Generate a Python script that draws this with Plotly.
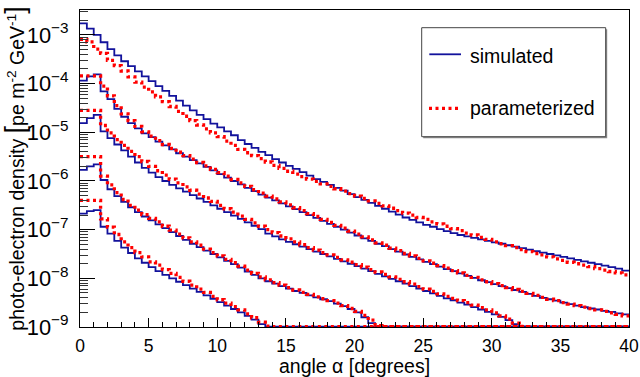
import plotly.graph_objects as go

# ---------------- data (log10 of photo-electron density per 0.5 deg bin) ----------------
bin_width = 0.5
n_bins = 80
bin_low = [i * bin_width for i in range(n_bins)]          # 0, 0.5, ..., 39.5

sim1_log10 = [-2.76, -2.87, -3.00, -3.15, -3.29, -3.42, -3.54, -3.64, -3.75, -3.85,
              -3.95, -4.05, -4.15, -4.25, -4.35, -4.45, -4.55, -4.64, -4.73, -4.82,
              -4.90, -4.98, -5.06, -5.16, -5.24, -5.32, -5.40, -5.47, -5.55, -5.62,
              -5.69, -5.75, -5.82, -5.89, -5.96, -6.02, -6.08, -6.14, -6.20, -6.27,
              -6.33, -6.39, -6.45, -6.51, -6.57, -6.63, -6.69, -6.75, -6.80, -6.85,
              -6.90, -6.94, -6.99, -7.03, -7.07, -7.11, -7.14, -7.17, -7.20, -7.23,
              -7.26, -7.29, -7.32, -7.35, -7.38, -7.41, -7.44, -7.47, -7.50, -7.53,
              -7.56, -7.59, -7.62, -7.65, -7.68, -7.71, -7.74, -7.77, -7.80, -7.84]
par1_log10 = [-3.09, -3.14, -3.29, -3.38, -3.52, -3.63, -3.74, -3.86, -3.97, -4.07,
              -4.17, -4.27, -4.37, -4.47, -4.57, -4.67, -4.76, -4.85, -4.93, -5.01,
              -5.09, -5.18, -5.27, -5.35, -5.42, -5.48, -5.54, -5.61, -5.68, -5.74,
              -5.80, -5.86, -5.91, -5.96, -6.01, -6.06, -6.11, -6.16, -6.21, -6.26,
              -6.31, -6.36, -6.41, -6.46, -6.51, -6.56, -6.61, -6.66, -6.70, -6.75,
              -6.79, -6.84, -6.88, -6.93, -6.98, -7.02, -7.07, -7.11, -7.16, -7.20,
              -7.25, -7.29, -7.33, -7.37, -7.41, -7.45, -7.49, -7.52, -7.56, -7.60,
              -7.63, -7.67, -7.70, -7.73, -7.76, -7.80, -7.83, -7.86, -7.89, -7.93]

sim2_log10 = [-3.94, -3.85, -3.81, -4.16, -4.32, -4.52, -4.68, -4.81, -4.92, -5.02,
              -5.10, -5.19, -5.27, -5.35, -5.43, -5.50, -5.57, -5.64, -5.71, -5.78,
              -5.86, -5.93, -6.00, -6.07, -6.14, -6.21, -6.28, -6.34, -6.40, -6.46,
              -6.52, -6.58, -6.64, -6.70, -6.76, -6.82, -6.88, -6.94, -7.00, -7.06,
              -7.12, -7.18, -7.23, -7.29, -7.34, -7.40, -7.45, -7.51, -7.56, -7.61,
              -7.66, -7.71, -7.76, -7.81, -7.85, -7.90, -7.95, -7.99, -8.04, -8.08,
              -8.12, -8.16, -8.20, -8.24, -8.28, -8.32, -8.36, -8.40, -8.43, -8.46,
              -8.50, -8.53, -8.56, -8.59, -8.62, -8.64, -8.67, -8.69, -8.72, -8.74]
par2_log10 = [-3.84, -3.84, -3.84, -4.05, -4.25, -4.45, -4.62, -4.76, -4.88, -4.99,
              -5.08, -5.17, -5.25, -5.33, -5.41, -5.48, -5.55, -5.62, -5.69, -5.76,
              -5.83, -5.90, -5.97, -6.04, -6.11, -6.18, -6.25, -6.31, -6.37, -6.43,
              -6.49, -6.55, -6.61, -6.67, -6.73, -6.79, -6.85, -6.91, -6.97, -7.03,
              -7.09, -7.15, -7.21, -7.27, -7.32, -7.38, -7.43, -7.49, -7.54, -7.59,
              -7.64, -7.69, -7.74, -7.79, -7.84, -7.89, -7.94, -7.98, -8.03, -8.07,
              -8.11, -8.15, -8.19, -8.23, -8.27, -8.31, -8.35, -8.39, -8.43, -8.46,
              -8.50, -8.53, -8.56, -8.59, -8.62, -8.65, -8.68, -8.71, -8.74, -8.77]

sim3_log10 = [-4.81, -4.71, -4.64, -4.98, -5.12, -5.25, -5.37, -5.50, -5.62, -5.73,
              -5.83, -5.92, -6.00, -6.08, -6.15, -6.22, -6.29, -6.36, -6.43, -6.50,
              -6.57, -6.64, -6.71, -6.78, -6.85, -6.92, -6.99, -7.08, -7.14, -7.20,
              -7.25, -7.30, -7.35, -7.40, -7.45, -7.50, -7.55, -7.60, -7.65, -7.70,
              -7.75, -7.80, -7.85, -7.91, -7.96, -8.01, -8.06, -8.11, -8.16, -8.21,
              -8.26, -8.31, -8.36, -8.41, -8.45, -8.50, -8.54, -8.59, -8.64, -8.69,
              -8.74, -8.79, -8.86, -8.94, None, None, None, None, None, None,
              None, None, None, None, None, None, None, None, None, None]
par3_log10 = [-4.55, -4.55, -4.55, -4.86, -5.01, -5.15, -5.27, -5.39, -5.50, -5.60,
              -5.70, -5.79, -5.88, -5.96, -6.04, -6.12, -6.19, -6.27, -6.35, -6.42,
              -6.50, -6.57, -6.64, -6.72, -6.79, -6.86, -6.93, -7.00, -7.06, -7.13,
              -7.19, -7.25, -7.31, -7.37, -7.42, -7.47, -7.52, -7.57, -7.62, -7.67,
              -7.72, -7.77, -7.82, -7.87, -7.92, -7.97, -8.02, -8.07, -8.12, -8.17,
              -8.22, -8.27, -8.32, -8.37, -8.41, -8.46, -8.50, -8.55, -8.60, -8.65,
              -8.71, -8.77, -8.84, -8.92, -8.99, None, None, None, None, None,
              None, None, None, None, None, None, None, None, None, None]

sim4_log10 = [-5.77, -5.70, -5.66, -5.98, -6.17, -6.31, -6.43, -6.54, -6.64, -6.73,
              -6.81, -6.89, -6.97, -7.05, -7.13, -7.21, -7.29, -7.36, -7.43, -7.50,
              -7.57, -7.64, -7.71, -7.78, -7.86, -7.93, -8.00, -8.06, -8.11, -8.16,
              -8.21, -8.26, -8.30, -8.35, -8.39, -8.43, -8.47, -8.52, -8.57, -8.63,
              -8.70, -8.80, -8.92, None, None, None, None, None, None, None,
              None, None, None, None, None, None, None, None, None, None,
              None, None, None, None, None, None, None, None, None, None,
              None, None, None, None, None, None, None, None, None, None]
par4_log10 = [-5.50, -5.50, -5.50, -5.90, -6.08, -6.24, -6.38, -6.50, -6.60, -6.69,
              -6.77, -6.84, -6.93, -7.01, -7.09, -7.17, -7.25, -7.32, -7.40, -7.47,
              -7.54, -7.61, -7.68, -7.75, -7.83, -7.90, -7.97, -8.03, -8.09, -8.14,
              -8.19, -8.24, -8.29, -8.33, -8.38, -8.42, -8.46, -8.51, -8.56, -8.62,
              -8.68, -8.76, -8.86, -8.97, None, None, None, None, None, None,
              None, None, None, None, None, None, None, None, None, None,
              None, None, None, None, None, None, None, None, None, None,
              None, None, None, None, None, None, None, None, None, None]

sim5_log10 = [-6.67, -6.62, -6.60, -6.94, -7.08, -7.23, -7.37, -7.48, -7.59, -7.68,
              -7.77, -7.85, -7.93, -8.00, -8.07, -8.14, -8.21, -8.28, -8.35, -8.42,
              -8.49, -8.56, -8.63, -8.70, -8.77, -8.85, -8.94, None, None, None,
              None, None, None, None, None, None, None, None, None, None,
              None, None, None, None, None, None, None, None, None, None,
              None, None, None, None, None, None, None, None, None, None,
              None, None, None, None, None, None, None, None, None, None,
              None, None, None, None, None, None, None, None, None, None]
par5_log10 = [-6.40, -6.40, -6.40, -6.78, -6.95, -7.10, -7.25, -7.37, -7.47, -7.56,
              -7.66, -7.73, -7.82, -7.90, -7.98, -8.06, -8.14, -8.22, -8.29, -8.37,
              -8.44, -8.51, -8.58, -8.65, -8.73, -8.81, -8.90, -8.98, None, None,
              None, None, None, None, None, None, None, None, None, None,
              None, None, None, None, None, None, None, None, None, None,
              None, None, None, None, None, None, None, None, None, None,
              None, None, None, None, None, None, None, None, None, None,
              None, None, None, None, None, None, None, None, None, None]

simulated = [sim1_log10, sim2_log10, sim3_log10, sim4_log10, sim5_log10]
parameterized = [par1_log10, par2_log10, par3_log10, par4_log10, par5_log10]

x_title = "angle \u03b1 [degrees]"
y_title = ("photo-electron density <span style='font-size:27px'>[</span>pe m<sup>-2</sup> "
           "GeV<sup>-1</sup><span style='font-size:27px'>]</span>")
legend_labels = ["simulated", "parameterized"]

# ---------------- styling ----------------
Y_MIN_LOG, Y_MAX_LOG = -9.0, -2.487
FLOOR_LOG = -8.992          # empty bins are drawn on the bottom frame (ROOT log-scale behaviour)
BLUE = "#12129c"
RED = "#ff0000"
FONT = "Liberation Sans, Arial, Helvetica, sans-serif"


def step_xy(log_vals):
    xs = bin_low + [bin_low[-1] + bin_width]
    ys = [10 ** (v if v is not None else FLOOR_LOG) for v in log_vals]
    ys = ys + [ys[-1]]
    return xs, ys


fig = go.Figure()
for s in simulated:
    xs, ys = step_xy(s)
    fig.add_trace(go.Scatter(x=xs, y=ys, mode="lines", line_shape="hv",
                             line=dict(color=BLUE, width=1.8), name="simulated",
                             showlegend=False, hoverinfo="skip"))
for p in parameterized:
    xs, ys = step_xy(p)
    fig.add_trace(go.Scatter(x=xs, y=ys, mode="lines", line_shape="hv",
                             line=dict(color=RED, width=3.3, dash="3px,3.5px"), name="parameterized",
                             showlegend=False, hoverinfo="skip"))

W, H = 640, 377
ML, MR, MT, MB = 80, 11, 10, 50
PW, PH = W - ML - MR, H - MT - MB


def px(xp):
    return (xp - ML) / PW


def py(yp):
    return (H - MB - yp) / PH


shapes = [
    # legend shadow + box
    dict(type="rect", xref="paper", yref="paper", x0=px(423.2), x1=px(607.2), y0=py(138.2), y1=py(29.2),
         line=dict(width=0), fillcolor="#8a8a8a", layer="above"),
    dict(type="rect", xref="paper", yref="paper", x0=px(421.7), x1=px(605.7), y0=py(136.7), y1=py(27.7),
         line=dict(color="#444444", width=1), fillcolor="white", layer="above"),
    dict(type="line", xref="paper", yref="paper", x0=px(429.3), x1=px(461), y0=py(54.3), y1=py(54.3),
         line=dict(color=BLUE, width=1.8), layer="above"),
    dict(type="line", xref="paper", yref="paper", x0=px(429), x1=px(460), y0=py(108.3), y1=py(108.3),
         line=dict(color=RED, width=3.3, dash="3px,3.5px"), layer="above"),
]
annotations = [
    dict(xref="paper", yref="paper", x=px(468), y=py(55.5), text=legend_labels[0], showarrow=False,
         xanchor="left", yanchor="middle", font=dict(size=19.5, color="black", family=FONT)),
    dict(xref="paper", yref="paper", x=px(468), y=py(108.5), text=legend_labels[1], showarrow=False,
         xanchor="left", yanchor="middle", font=dict(size=19.5, color="black", family=FONT)),
]

fig.update_layout(
    width=W, height=H,
    margin=dict(l=ML, r=MR, t=MT, b=MB, pad=0, autoexpand=False),
    paper_bgcolor="white", plot_bgcolor="white",
    font=dict(family=FONT, color="black"),
    showlegend=False,
    shapes=shapes, annotations=annotations,
    xaxis=dict(range=[0, 40], tick0=0, dtick=5, ticks="inside", ticklen=9, tickwidth=1, tickcolor="black",
               minor=dict(dtick=1, ticks="inside", ticklen=5, tickcolor="black", tickwidth=1),
               showgrid=False, zeroline=False, showline=True, linecolor="black", linewidth=1, mirror=True,
               tickfont=dict(size=17.5), ticklabelstandoff=3, automargin=False,
               title=dict(text=x_title, font=dict(size=19.5), standoff=7)),
    yaxis=dict(type="log", range=[Y_MIN_LOG, Y_MAX_LOG], dtick=1, exponentformat="power",
               ticks="inside", ticklen=15, tickwidth=1, tickcolor="black",
               minor=dict(dtick="D1", ticks="inside", ticklen=8, tickcolor="#333333", tickwidth=1),
               showgrid=False, zeroline=False, showline=True, linecolor="black", linewidth=1, mirror=True,
               tickfont=dict(size=17.5), ticklabelstandoff=7, automargin=False,
               title=dict(text=y_title, font=dict(size=19.5), standoff=6)),
)

fig.write_html("out.html")
